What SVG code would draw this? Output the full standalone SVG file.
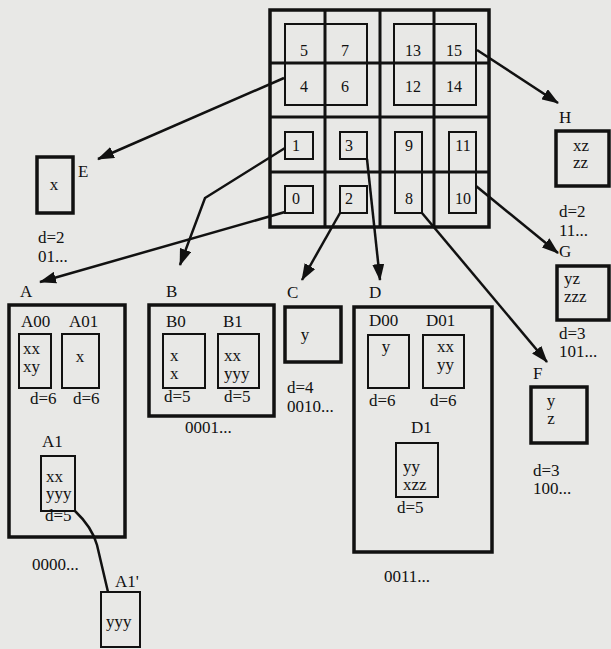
<svg xmlns="http://www.w3.org/2000/svg" width="611" height="649" viewBox="0 0 611 649">
<defs>
<marker id="ah" markerUnits="userSpaceOnUse" markerWidth="17" markerHeight="12" refX="16" refY="6" orient="auto">
<path d="M0,0 L17,6 L0,12 z" fill="#111"/>
</marker>
<style>
text{font-family:"Liberation Serif","Times New Roman",serif;font-size:17px;fill:#111}
.num{font-size:16px;text-anchor:middle}
.mid{text-anchor:middle}
.outer{fill:none;stroke:#111;stroke-width:3.5}
.inner{fill:none;stroke:#111;stroke-width:2}
.grid{fill:none;stroke:#111;stroke-width:3}
.conn{fill:none;stroke:#111;stroke-width:2.5}
</style>
</defs>
<rect width="611" height="649" fill="#e8e8e6"/>

<g id="grid">
<rect class="outer" x="270" y="10" width="219" height="217" stroke-width="4"/>
<line class="grid" x1="325" y1="10" x2="325" y2="227"/>
<line class="grid" x1="380" y1="10" x2="380" y2="227"/>
<line class="grid" x1="434" y1="10" x2="434" y2="227"/>
<line class="grid" x1="270" y1="63" x2="489" y2="63" stroke-width="2.5"/>
<line class="grid" x1="270" y1="117" x2="489" y2="117"/>
<line class="grid" x1="270" y1="172" x2="489" y2="172" stroke-width="2.5"/>
<rect class="inner" x="285" y="24" width="82" height="81"/>
<rect class="inner" x="394" y="24" width="82" height="81"/>
<rect class="inner" x="285" y="132" width="28" height="27"/>
<rect class="inner" x="340" y="132" width="27" height="27"/>
<rect class="inner" x="395" y="132" width="27" height="81"/>
<rect class="inner" x="449" y="132" width="27" height="81"/>
<rect class="inner" x="285" y="186" width="28" height="27"/>
<rect class="inner" x="340" y="186" width="27" height="27"/>
<text class="num" x="304" y="56">5</text>
<text class="num" x="345" y="56">7</text>
<text class="num" x="413" y="56">13</text>
<text class="num" x="454" y="56">15</text>
<text class="num" x="304" y="92">4</text>
<text class="num" x="345" y="92">6</text>
<text class="num" x="413" y="92">12</text>
<text class="num" x="454" y="92">14</text>
<text class="num" x="296" y="151">1</text>
<text class="num" x="349" y="151">3</text>
<text class="num" x="409" y="151">9</text>
<text class="num" x="463" y="151">11</text>
<text class="num" x="296" y="204">0</text>
<text class="num" x="349" y="204">2</text>
<text class="num" x="409" y="204">8</text>
<text class="num" x="463" y="204">10</text>
</g>

<g id="connectors">
<line class="conn" x1="284" y1="78" x2="98" y2="159" marker-end="url(#ah)"/>
<polyline class="conn" points="285,148 205,198 180,265" marker-end="url(#ah)"/>
<line class="conn" x1="285" y1="212" x2="40" y2="282" marker-end="url(#ah)"/>
<line class="conn" x1="340" y1="213" x2="302" y2="280" marker-end="url(#ah)"/>
<line class="conn" x1="367" y1="159" x2="380" y2="280" marker-end="url(#ah)"/>
<line class="conn" x1="422" y1="213" x2="547" y2="362" marker-end="url(#ah)"/>
<line class="conn" x1="476" y1="186" x2="558" y2="253" marker-end="url(#ah)"/>
<line class="conn" x1="477" y1="50" x2="558" y2="103" marker-end="url(#ah)"/>
<path class="conn" d="M75,511 Q92,527 97,545 Q102,566 108,592"/>
</g>

<g id="E">
<rect class="outer" x="37" y="157" width="36" height="56" stroke-width="3"/>
<text class="mid" x="54" y="190">x</text>
<text x="78" y="177">E</text>
<text x="38" y="243">d=2</text>
<text x="38" y="262">01...</text>
</g>

<g id="A">
<text x="20" y="297">A</text>
<rect class="outer" x="9" y="305" width="116" height="232"/>
<text x="21" y="327">A00</text>
<text x="69" y="327">A01</text>
<rect class="inner" x="19" y="334" width="32" height="54"/>
<text x="23" y="354">xx</text>
<text x="23" y="372">xy</text>
<rect class="inner" x="62" y="334" width="37" height="54"/>
<text class="mid" x="80" y="362">x</text>
<text x="30" y="404">d=6</text>
<text x="73" y="404">d=6</text>
<text x="42" y="447">A1</text>
<rect class="inner" x="41" y="456" width="34" height="55"/>
<text x="46" y="482">xx</text>
<text x="46" y="499">yyy</text>
<text x="45" y="521">d=5</text>
<text x="32" y="570">0000...</text>
</g>

<g id="A1p">
<text x="115" y="587">A1'</text>
<rect class="inner" x="101" y="592" width="39" height="55"/>
<text x="106" y="627">yyy</text>
</g>

<g id="B">
<text x="166" y="297">B</text>
<rect class="outer" x="149" y="305" width="125" height="111"/>
<text x="166" y="327">B0</text>
<text x="223" y="327">B1</text>
<rect class="inner" x="163" y="334" width="42" height="54"/>
<text x="170" y="361">x</text>
<text x="170" y="379">x</text>
<rect class="inner" x="218" y="334" width="41" height="54"/>
<text x="224" y="361">xx</text>
<text x="224" y="379">yyy</text>
<text x="164" y="402">d=5</text>
<text x="224" y="402">d=5</text>
<text x="185" y="433">0001...</text>
</g>

<g id="C">
<text x="287" y="298">C</text>
<rect class="outer" x="285" y="307" width="56" height="55"/>
<text class="mid" x="305" y="340">y</text>
<text x="287" y="393">d=4</text>
<text x="287" y="412">0010...</text>
</g>

<g id="D">
<text x="369" y="298">D</text>
<rect class="outer" x="354" y="307" width="138" height="245"/>
<text x="369" y="326">D00</text>
<text x="426" y="326">D01</text>
<rect class="inner" x="368" y="335" width="41" height="53"/>
<text class="mid" x="386" y="352">y</text>
<rect class="inner" x="423" y="335" width="41" height="53"/>
<text x="437" y="352">xx</text>
<text x="437" y="370">yy</text>
<text x="369" y="406">d=6</text>
<text x="430" y="406">d=6</text>
<text x="411" y="433">D1</text>
<rect class="inner" x="396" y="443" width="42" height="54"/>
<text x="403" y="472">yy</text>
<text x="403" y="490">xzz</text>
<text x="397" y="513">d=5</text>
<text x="384" y="582">0011...</text>
</g>

<g id="H">
<text x="559" y="123">H</text>
<rect class="outer" x="556" y="131" width="53" height="55" stroke-width="3"/>
<text x="573" y="151">xz</text>
<text x="573" y="168">zz</text>
<text x="559" y="217">d=2</text>
<text x="559" y="236">11...</text>
</g>

<g id="G">
<text x="559" y="257">G</text>
<rect class="outer" x="557" y="266" width="52" height="54" stroke-width="3"/>
<text x="564" y="284">yz</text>
<text x="564" y="302">zzz</text>
<text x="559" y="339">d=3</text>
<text x="559" y="357">101...</text>
</g>

<g id="F">
<text x="533" y="379">F</text>
<rect class="outer" x="531" y="387" width="56" height="56" stroke-width="3"/>
<text class="mid" x="551" y="406">y</text>
<text class="mid" x="551" y="424">z</text>
<text x="533" y="476">d=3</text>
<text x="533" y="494">100...</text>
</g>
</svg>
